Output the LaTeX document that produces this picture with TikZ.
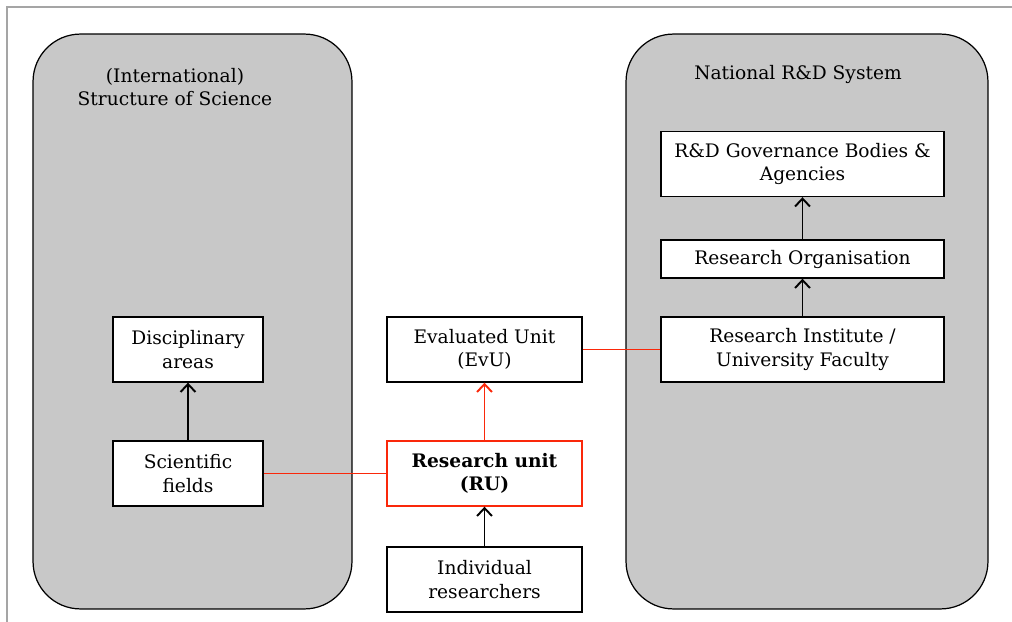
\documentclass[tikz,border=0pt]{standalone}
\usepackage{fontspec}
\setmainfont{DejaVu Serif}
\usetikzlibrary{arrows.meta}
\definecolor{panelgray}{RGB}{200,200,200}
\definecolor{framegray}{RGB}{165,165,165}
\definecolor{linkred}{RGB}{250,40,10}

\begin{document}
\begin{tikzpicture}[x=0.02cm,y=-0.02cm,
    panel/.style={draw,fill=panelgray,line width=0.7pt,rounded corners=0.95cm},
    unit/.style={draw,fill=white,line width=0.8pt,align=center,inner sep=0pt,
        font=\fontsize{10.6}{13.2}\selectfont},
    title/.style={align=center,font=\fontsize{10.6}{13.2}\selectfont},
    up/.style={-{Straight Barb[length=4.5pt,width=8.5pt,line width=1.1pt]},line width=0.9pt},
    redlink/.style={draw=linkred,line width=1.1pt}]
    \useasboundingbox (0,0) rectangle (1012,622);
    % frame of the page
    \draw[framegray,line width=0.8pt] (7,622) -- (7,7) -- (1012,7);
    % the two panels
    \node[panel,minimum width=6.38cm,minimum height=11.5cm] (science) at (192.5,321.5) {};
    \node[panel,minimum width=7.24cm,minimum height=11.5cm] (national) at (807,321.5) {};
    \node[title] (sciencetitle) at (175,87) {(International)\\Structure of Science};
    \node[title] (nationaltitle) at (798,74) {National R\&D System};
    % left column
    \node[unit,minimum width=3cm,minimum height=1.3cm] (areas) at (188,349.5) {Disciplinary\\areas};
    \node[unit,minimum width=3cm,minimum height=1.3cm] (fields) at (188,473.5) {Scientific\\fields};
    \draw[up] (fields) -- (areas);
    % middle column
    \node[unit,draw=linkred,minimum width=3.9cm,minimum height=1.3cm,font=\fontsize{10.6}{13.2}\selectfont\bfseries] (ru) at (484.5,473.5) {Research unit\\(RU)};
    \node[unit,minimum width=3.9cm,minimum height=1.3cm] (evu) at (484.5,349.5) {Evaluated Unit\\(EvU)};
    \node[unit,minimum width=3.9cm,minimum height=1.3cm] (people) at (484.5,579.5) {Individual\\researchers};
    \draw[up] (people) -- (ru);
    \draw[up,draw=linkred] (ru) -- (evu);
    % right column
    \node[unit,minimum width=5.66cm,minimum height=1.3cm] (agencies) at (802.5,164) {R\&D Governance Bodies \&\\Agencies};
    \node[unit,minimum width=5.66cm,minimum height=0.76cm] (org) at (802.5,259) {Research Organisation};
    \node[unit,minimum width=5.66cm,minimum height=1.3cm] (faculty) at (802.5,349.5) {Research Institute /\\University Faculty};
    \draw[up] (faculty) -- (org);
    \draw[up] (org) -- (agencies);
    % red links
    \draw[redlink] (fields.east) -- (ru.west);
    \draw[redlink] (evu.east) -- (faculty.west);
\end{tikzpicture}
\end{document}
